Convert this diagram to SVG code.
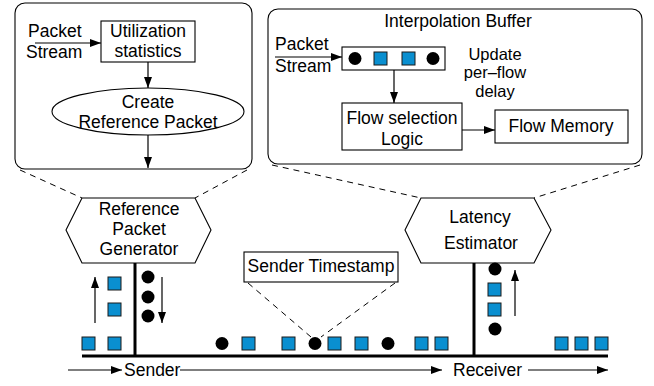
<svg xmlns="http://www.w3.org/2000/svg" width="654" height="386" viewBox="0 0 654 386">
<style>
text{font-family:"Liberation Sans",Arial,sans-serif;font-size:17.5px;fill:#000}
.c{text-anchor:middle}
.tight{font-size:16.5px}
.box{fill:#fff;stroke:#000;stroke-width:1.1}
.ln{fill:none;stroke:#000;stroke-width:1.2}
.dash{fill:none;stroke:#000;stroke-width:1;stroke-dasharray:6,5}
.thick{fill:none;stroke:#000;stroke-width:3}
.sq{fill:#0a8fd0;stroke:#1a1a1a;stroke-width:1}
.dot{fill:#000}
</style>
<defs>
<marker id="ah" markerUnits="userSpaceOnUse" markerWidth="11" markerHeight="8" refX="11" refY="4" orient="auto">
<path d="M0,0 L11,4 L0,8 z" fill="#000"/>
</marker>
</defs>

<g id="generator-detail">
<rect class="box" x="15" y="3" width="237" height="166" rx="10"/>
<text x="28" y="37">Packet</text>
<text x="26" y="58">Stream</text>
</g>
<g id="utilization">
<rect class="box" x="101" y="21" width="94" height="41"/>
<text class="c" x="148" y="37">Utilization</text>
<text class="c" x="148" y="57">statistics</text>
</g>
<g id="create-ref">
<ellipse class="box" cx="148" cy="111.5" rx="96" ry="23.5"/>
<text class="c" x="148" y="108">Create</text>
<text class="c" x="148" y="128">Reference Packet</text>
</g>

<g id="interp-detail">
<rect class="box" x="268" y="9" width="374" height="155" rx="10"/>
<text class="c" x="458" y="27">Interpolation Buffer</text>
<text x="275" y="50">Packet</text>
<text x="275" y="72">Stream</text>
<text class="c tight" x="495" y="59.5">Update</text>
<text class="c tight" x="495" y="78">per–flow</text>
<text class="c tight" x="495" y="96.5">delay</text>
</g>
<g id="buffer">
<rect class="box" x="342" y="47" width="103" height="23"/>
<circle class="dot" cx="355" cy="58.5" r="6.5"/>
<rect class="sq" x="374" y="52" width="13" height="13"/>
<rect class="sq" x="402" y="52" width="13" height="13"/>
<circle class="dot" cx="433" cy="58.5" r="6.5"/>
</g>
<g id="flow-select">
<rect class="box" x="342" y="103" width="120" height="47"/>
<text class="c" x="402" y="124">Flow selection</text>
<text class="c" x="402" y="145">Logic</text>
</g>
<g id="flow-memory">
<rect class="box" x="495" y="110" width="133" height="33"/>
<text class="c" x="561" y="132">Flow Memory</text>
</g>

<g id="ref-generator">
<polygon class="box" points="82,198 195,198 211,230 195,263 82,263 66,230"/>
<text class="c" x="139" y="215">Reference</text>
<text class="c" x="139" y="235">Packet</text>
<text class="c" x="139" y="255">Generator</text>
</g>
<g id="latency-estimator">
<polygon class="box" points="421,198 534,198 551,230 534,263 421,263 405,230"/>
<text class="c" x="480" y="223">Latency</text>
<text class="c" x="481" y="249">Estimator</text>
</g>
<g id="sender-timestamp">
<rect class="box" x="244" y="252" width="154" height="30"/>
<text class="c" x="321" y="272">Sender Timestamp</text>
</g>

<g id="connectors">
<line class="ln" x1="35" y1="43" x2="101" y2="43" marker-end="url(#ah)"/>
<line class="ln" x1="148" y1="62" x2="148" y2="88" marker-end="url(#ah)"/>
<line class="ln" x1="148" y1="135" x2="148" y2="168" marker-end="url(#ah)"/>
<line class="ln" x1="275" y1="57" x2="342" y2="57" marker-end="url(#ah)"/>
<line class="ln" x1="394" y1="70" x2="394" y2="103" marker-end="url(#ah)"/>
<line class="ln" x1="462" y1="130" x2="495" y2="130" marker-end="url(#ah)"/>
<line class="dash" x1="20" y1="170" x2="82" y2="198"/>
<line class="dash" x1="247" y1="170" x2="195" y2="198"/>
<line class="dash" x1="272" y1="165" x2="421" y2="198"/>
<line class="dash" x1="640" y1="165" x2="534" y2="198"/>
<line class="dash" x1="248" y1="283" x2="311" y2="337"/>
<line class="dash" x1="395" y1="283" x2="321" y2="337"/>
<line class="thick" x1="135" y1="263" x2="135" y2="356"/>
<line class="thick" x1="474" y1="263" x2="474" y2="356"/>
<line class="thick" x1="82" y1="356" x2="608" y2="356"/>
<line class="ln" x1="95" y1="323" x2="95" y2="277" marker-end="url(#ah)"/>
<line class="ln" x1="162" y1="277" x2="162" y2="323" marker-end="url(#ah)"/>
<line class="ln" x1="515" y1="316" x2="515" y2="270" marker-end="url(#ah)"/>
<line class="ln" x1="68" y1="370" x2="122" y2="370" marker-end="url(#ah)"/>
<line class="ln" x1="180" y1="370" x2="442" y2="370" marker-end="url(#ah)"/>
<line class="ln" x1="528" y1="370" x2="608" y2="370" marker-end="url(#ah)"/>
</g>

<g id="packets">
<rect class="sq" x="108" y="277" width="13" height="13"/>
<rect class="sq" x="108" y="303" width="13" height="13"/>
<rect class="sq" x="82" y="337" width="13" height="13"/>
<rect class="sq" x="108" y="337" width="13" height="13"/>
<circle class="dot" cx="148" cy="277" r="6.5"/>
<circle class="dot" cx="148" cy="297" r="6.5"/>
<circle class="dot" cx="148" cy="316" r="6.5"/>
<circle class="dot" cx="222" cy="343.5" r="6.5"/>
<rect class="sq" x="242" y="337" width="13" height="13"/>
<rect class="sq" x="282" y="337" width="13" height="13"/>
<circle class="dot" cx="315" cy="343.5" r="6.5"/>
<rect class="sq" x="328" y="337" width="13" height="13"/>
<rect class="sq" x="355" y="337" width="13" height="13"/>
<circle class="dot" cx="388" cy="343.5" r="6.5"/>
<rect class="sq" x="415" y="337" width="13" height="13"/>
<rect class="sq" x="435" y="337" width="13" height="13"/>
<rect class="sq" x="555" y="337" width="13" height="13"/>
<rect class="sq" x="575" y="337" width="13" height="13"/>
<rect class="sq" x="595" y="337" width="13" height="13"/>
<circle class="dot" cx="495" cy="269" r="6.5"/>
<rect class="sq" x="488" y="283" width="13" height="13"/>
<rect class="sq" x="488" y="303" width="13" height="13"/>
<circle class="dot" cx="495" cy="329" r="6.5"/>
</g>

<g id="labels">
<text x="124" y="376">Sender</text>
<text x="453" y="376">Receiver</text>
</g>
</svg>
